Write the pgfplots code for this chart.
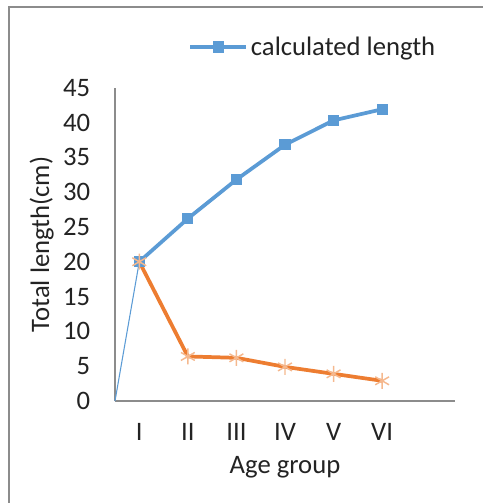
\documentclass[border=0pt]{standalone}
\usepackage{pgfplots}
\pgfplotsset{compat=1.18}
\usepackage{fontspec}
\setmainfont{Carlito}
\definecolor{xblue}{RGB}{91,155,213}
\definecolor{xorange}{RGB}{237,125,49}
\definecolor{xtext}{RGB}{35,35,35}
\begin{document}
\begin{tikzpicture}[x=0.75pt,y=0.75pt]
\useasboundingbox (0,0) rectangle (482,-503);
\draw[black!45, line width=0.9pt] (9,-510) -- (9,-7) -- (490,-7);
\begin{axis}[
  at={(86.25pt,-300.75pt)}, anchor=south west,
  scale only axis, width=255pt, height=235pt,
  xmin=0.5, xmax=7.5, ymin=0, ymax=45,
  axis x line*=bottom, axis y line*=left,
  axis line style={black!45, line width=0.8pt},
  major tick length=0pt,
  xtick={1,2,3,4,5,6}, xticklabels={I,II,III,IV,V,VI},
  ytick={0,5,...,45},
  tick label style={font=\fontsize{20}{24}\selectfont, text=xtext},
  /pgf/number format/assume math mode=true,
  yticklabel style={inner sep=0pt, xshift=-18.5pt},
  xticklabel style={inner sep=0pt, yshift=-16.5pt},
  xlabel={Age group},
  ylabel={Total length(cm)},
  label style={font=\fontsize{20}{24}\selectfont, text=xtext},
  xlabel style={at={(axis description cs:0.5,-0.21)}, anchor=center},
  ylabel style={at={(axis description cs:-0.216,0.5)}, anchor=center},
  legend style={at={(axis description cs:0.583,1.13)}, anchor=center, draw=none, fill=none,
    font=\fontsize{20}{24}\selectfont, text=xtext, inner sep=0pt},
  legend image code/.code={\draw[mark repeat=2,mark phase=2,#1] plot coordinates {(0pt,0pt) (21pt,0pt) (42pt,0pt)};},
  clip=false,
]
\addplot[xblue, line width=0.8pt, forget plot] coordinates {(0.5,0) (1,20)};
\addplot[xblue, line width=2.8pt, mark=square*, mark size=3.8pt, mark options={xblue, line width=0pt}]
  coordinates {(1,20) (2,26.2) (3,31.8) (4,36.8) (5,40.3) (6,41.9)};
\addlegendentry{calculated length}
\addplot[xorange, line width=2.8pt, mark=asterisk, mark size=6pt,
  mark options={xorange!55, line width=1.1pt}, forget plot]
  coordinates {(1,20) (2,6.4) (3,6.2) (4,4.9) (5,3.9) (6,2.9)};
\end{axis}
\end{tikzpicture}
\end{document}
